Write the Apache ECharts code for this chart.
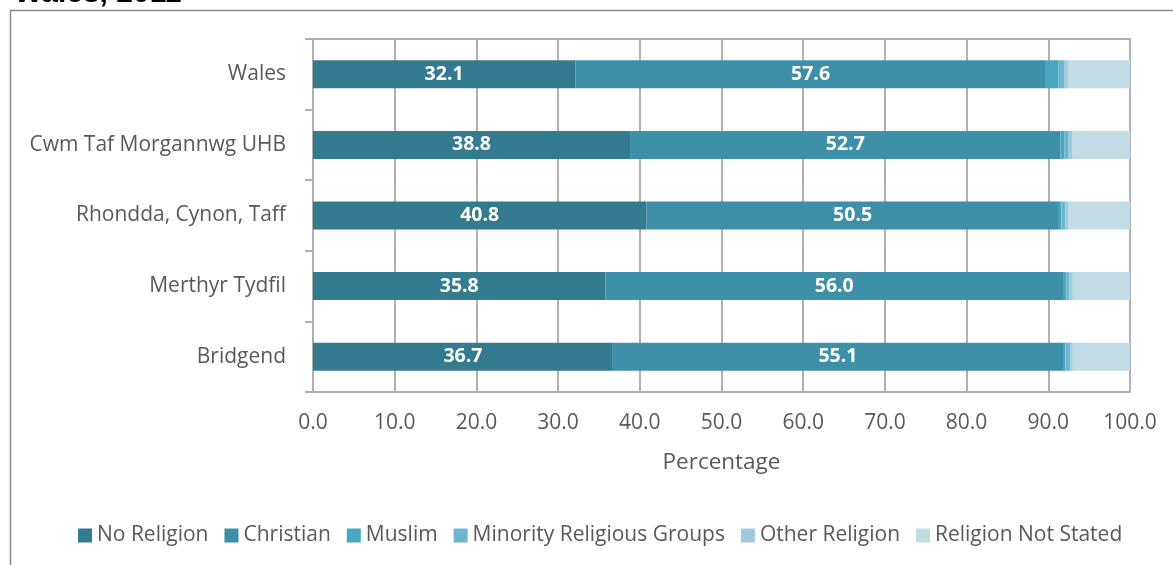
<!DOCTYPE html>
<html>
<head>
<meta charset="utf-8">
<script src="https://cdn.jsdelivr.net/npm/echarts@6/dist/echarts.min.js"></script>
<style>html,body{margin:0;padding:0;background:#fff;}#c{width:1173px;height:565px;}</style>
</head>
<body>
<div id="c"></div>
<script>
const categories = ['Wales', 'Cwm Taf Morgannwg UHB', 'Rhondda, Cynon, Taff', 'Merthyr Tydfil', 'Bridgend'];
const noReligion = [32.1, 38.8, 40.8, 35.8, 36.7];
const christian = [57.6, 52.7, 50.5, 56.0, 55.1];
const muslim = [1.5, 0.5, 0.3, 0.4, 0.3];
const minority = [0.8, 0.5, 0.5, 0.4, 0.6];
const otherReligion = [0.4, 0.4, 0.4, 0.4, 0.3];
const notStated = [7.6, 7.1, 7.5, 7.0, 7.0];
const seriesNames = ['No Religion', 'Christian', 'Muslim', 'Minority Religious Groups', 'Other Religion', 'Religion Not Stated'];
const seriesColors = ['#347b8f', '#3e90a8', '#49a6c0', '#6db6cd', '#9ecadb', '#c1dce5'];
const seriesData = [noReligion, christian, muslim, minority, otherReligion, notStated];
const labelled = [true, true, false, false, false, false];

const FONT = 'Open Sans';
const chart = echarts.init(document.getElementById('c'), null, {renderer: 'canvas'});
const series = seriesNames.map((n, i) => ({
  name: n,
  type: 'bar',
  stack: 'total',
  barWidth: 28,
  data: seriesData[i],
  itemStyle: {color: seriesColors[i]},
  label: labelled[i] ? {
    show: true, position: 'inside', color: '#fff', fontWeight: 'bold',
    fontSize: 19.5, fontFamily: FONT,
    formatter: p => p.value.toFixed(1)
  } : {show: false},
  emphasis: {disabled: true}
}));

chart.setOption({
  animation: false,
  backgroundColor: '#fff',
  graphic: [
    {type: 'rect', shape: {x: 10.5, y: 10.5, width: 1300, height: 700},
     style: {fill: 'none', stroke: '#8c8c8c', lineWidth: 1.5}, silent: true, z: -1},
    {type: 'text', x: 14, y: -21,
     style: {text: 'Wales, 2011', font: 'bold 30px "Liberation Sans"', fill: '#000'}, silent: true}
  ],
  grid: {left: 313, right: 43, top: 39, bottom: 173, containLabel: false},
  legend: {
    bottom: 14, left: 73,
    itemWidth: 14, itemHeight: 14, itemGap: 16,
    icon: 'rect',
    textStyle: {fontSize: 21, color: '#595959', fontFamily: FONT, padding: [0, 0, 0, 0]},
    data: seriesNames
  },
  xAxis: [{
    type: 'value', min: 0, max: 100, interval: 10,
    name: 'Percentage', nameLocation: 'middle', nameGap: 59,
    nameTextStyle: {fontSize: 22.5, color: '#595959', fontFamily: FONT},
    axisLabel: {fontSize: 21, color: '#595959', fontFamily: FONT, margin: 21, formatter: v => v.toFixed(1)},
    axisLine: {show: true, lineStyle: {color: '#b0b0b0', width: 2}},
    axisTick: {show: false},
    splitLine: {show: true, lineStyle: {color: '#b0b0b0', width: 2}}
  }, {
    type: 'value', min: 0, max: 100, interval: 10, position: 'top',
    axisLabel: {show: false}, axisTick: {show: false},
    axisLine: {show: true, lineStyle: {color: '#b0b0b0', width: 2}},
    splitLine: {show: false}
  }],
  yAxis: {
    type: 'category', data: categories, inverse: true,
    axisLabel: {fontSize: 21, color: '#595959', fontFamily: FONT, margin: 27},
    axisLine: {show: true, lineStyle: {color: '#b0b0b0', width: 2}},
    axisTick: {show: true, length: 8, lineStyle: {color: '#b0b0b0', width: 2}}
  },
  series: series
});
</script>
</body>
</html>
